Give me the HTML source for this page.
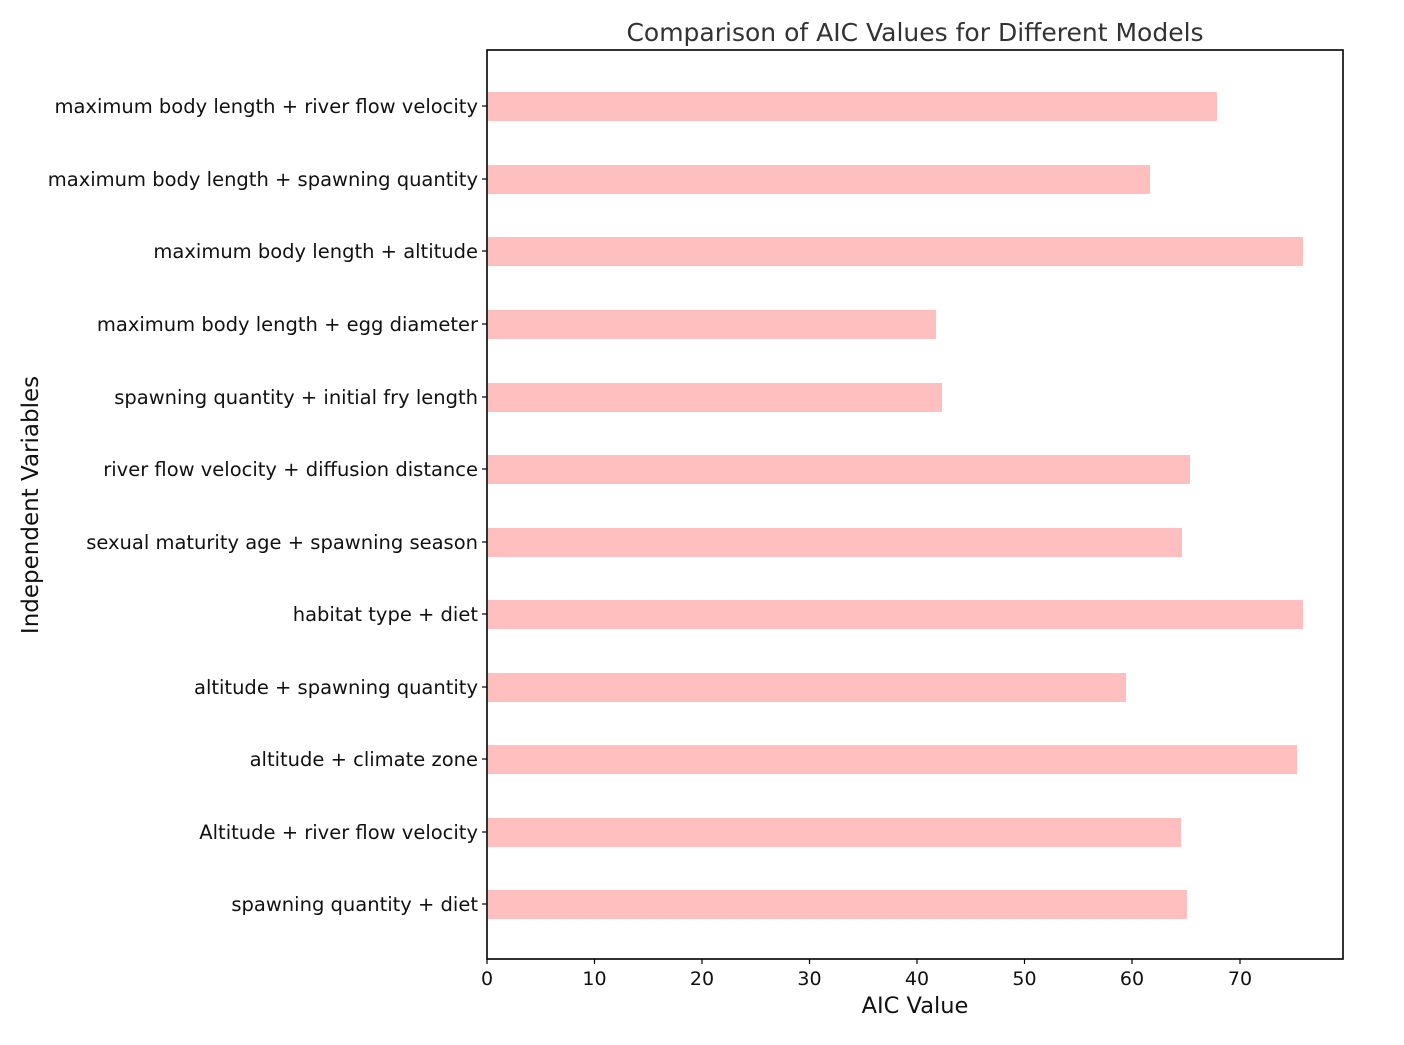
<!DOCTYPE html>
<html><head><meta charset="utf-8"><style>html,body{margin:0;padding:0;background:#fff}</style></head>
<body>
<svg width="1404" height="1040" xmlns="http://www.w3.org/2000/svg" font-family="'DejaVu Sans','Liberation Sans',sans-serif">
<rect width="1404" height="1040" fill="#fff"/>
<text x="915" y="41" font-size="25" fill="#333" text-anchor="middle">Comparison of AIC Values for Different Models</text>
<g fill="#ffbfbf">
<rect x="488" y="92" width="729" height="29"/>
<rect x="488" y="165" width="662" height="29"/>
<rect x="488" y="237" width="815" height="29"/>
<rect x="488" y="310" width="448" height="29"/>
<rect x="488" y="383" width="454" height="29"/>
<rect x="488" y="455" width="702" height="29"/>
<rect x="488" y="528" width="694" height="29"/>
<rect x="488" y="600" width="815" height="29"/>
<rect x="488" y="673" width="638" height="29"/>
<rect x="488" y="745" width="809" height="29"/>
<rect x="488" y="818" width="693" height="29"/>
<rect x="488" y="890" width="699" height="29"/>
</g>
<rect x="487" y="50" width="856" height="909" fill="none" stroke="#000" stroke-width="1.6"/>
<g stroke="#000" stroke-width="1.2">
<line x1="482" x2="487" y1="106" y2="106"/><line x1="482" x2="487" y1="179" y2="179"/>
<line x1="482" x2="487" y1="251" y2="251"/><line x1="482" x2="487" y1="324" y2="324"/>
<line x1="482" x2="487" y1="397" y2="397"/><line x1="482" x2="487" y1="469" y2="469"/>
<line x1="482" x2="487" y1="542" y2="542"/><line x1="482" x2="487" y1="614" y2="614"/>
<line x1="482" x2="487" y1="687" y2="687"/><line x1="482" x2="487" y1="759" y2="759"/>
<line x1="482" x2="487" y1="832" y2="832"/><line x1="482" x2="487" y1="904" y2="904"/>
<line x1="487" x2="487" y1="959" y2="964"/><line x1="594.5" x2="594.5" y1="959" y2="964"/>
<line x1="702" x2="702" y1="959" y2="964"/><line x1="809.5" x2="809.5" y1="959" y2="964"/>
<line x1="917" x2="917" y1="959" y2="964"/><line x1="1024.5" x2="1024.5" y1="959" y2="964"/>
<line x1="1132" x2="1132" y1="959" y2="964"/><line x1="1240" x2="1240" y1="959" y2="964"/>
</g>
<g font-size="19.5" fill="#111" text-anchor="end">
<text x="478" y="113">maximum body length + river flow velocity</text>
<text x="478" y="186">maximum body length + spawning quantity</text>
<text x="478" y="258">maximum body length + altitude</text>
<text x="478" y="331">maximum body length + egg diameter</text>
<text x="478" y="404">spawning quantity + initial fry length</text>
<text x="478" y="476">river flow velocity + diffusion distance</text>
<text x="478" y="549">sexual maturity age + spawning season</text>
<text x="478" y="621">habitat type + diet</text>
<text x="478" y="694">altitude + spawning quantity</text>
<text x="478" y="766">altitude + climate zone</text>
<text x="478" y="839">Altitude + river flow velocity</text>
<text x="478" y="911">spawning quantity + diet</text>
</g>
<g font-size="19" fill="#111" text-anchor="middle">
<text x="487" y="985">0</text><text x="594.5" y="985">10</text><text x="702" y="985">20</text>
<text x="809.5" y="985">30</text><text x="917" y="985">40</text><text x="1024.5" y="985">50</text>
<text x="1132" y="985">60</text><text x="1240" y="985">70</text>
</g>
<text x="915" y="1013" font-size="22.5" fill="#111" text-anchor="middle">AIC Value</text>
<text transform="translate(38,505) rotate(-90)" font-size="23" fill="#111" text-anchor="middle">Independent Variables</text>
</svg>
</body></html>
